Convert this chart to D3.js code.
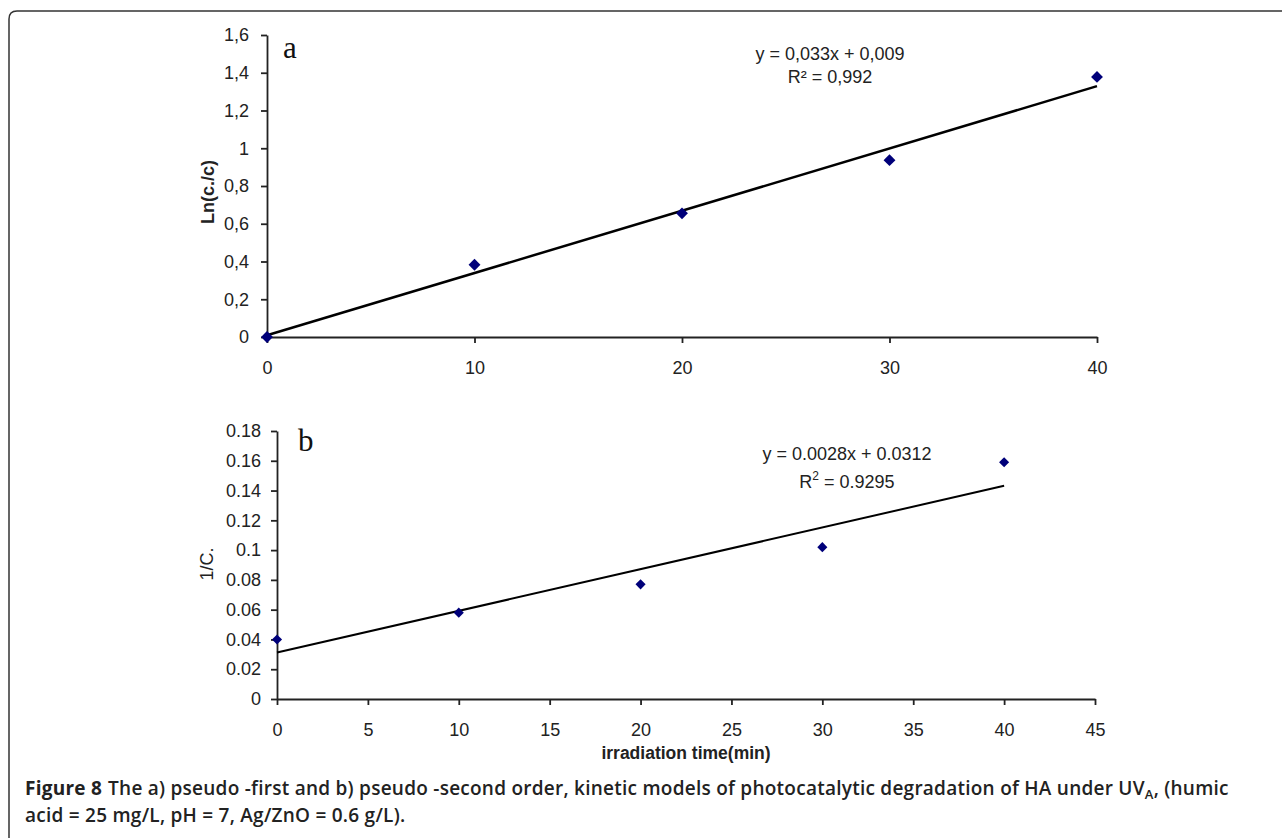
<!DOCTYPE html>
<html>
<head>
<meta charset="utf-8">
<script src="https://cdnjs.cloudflare.com/ajax/libs/d3/7.8.5/d3.min.js"></script>
<style>
  body { margin: 0; background: #fff; }
  .tick text { font-family: "Liberation Sans", Arial, sans-serif; font-size: 18px; fill: #222; }
  .axis path, .axis line { stroke: #222; stroke-width: 1.8; }
</style>
</head>
<body>
<svg id="canvas" width="1282" height="838"></svg>
<script>
// panel a: pseudo-first order
var timeA = [0, 10, 20, 30, 40];
var lnA = [0, 0.383, 0.655, 0.937, 1.378];
var ticksAY = [0, 0.2, 0.4, 0.6, 0.8, 1, 1.2, 1.4, 1.6];
var ticksAX = [0, 10, 20, 30, 40];
var fitA = { slope: 0.033, icept: 0.009 };

// panel b: pseudo-second order
var timeB = [0, 10, 20, 30, 40];
var invB = [0.040, 0.058, 0.077, 0.102, 0.159];
var ticksBY = [0, 0.02, 0.04, 0.06, 0.08, 0.1, 0.12, 0.14, 0.16, 0.18];
var ticksBX = [0, 5, 10, 15, 20, 25, 30, 35, 40, 45];
var fitB = { slope: 0.0028, icept: 0.0312 };

var canvas = d3.select("#canvas");

// frame (left + top, rounded corner)
canvas.append("path")
  .attr("d", "M9,838 L9,19 Q9,11 17,11 L1282,11")
  .attr("fill", "none")
  .attr("stroke", "#333")
  .attr("stroke-width", 1.5);

function panel(opts) {
  var x = d3.scaleLinear().domain(opts.xDomain).range(opts.xRange);
  var y = d3.scaleLinear().domain(opts.yDomain).range(opts.yRange);

  canvas.append("g")
    .attr("class", "axis")
    .attr("transform", "translate(0," + opts.yRange[0] + ")")
    .call(d3.axisBottom(x).tickValues(opts.xTicks).tickSize(6).tickSizeOuter(0).tickPadding(18));

  canvas.append("g")
    .attr("class", "axis")
    .attr("transform", "translate(" + opts.xRange[0] + ",0)")
    .call(d3.axisLeft(y).tickValues(opts.yTicks).tickSize(6).tickSizeOuter(0).tickPadding(opts.yPad).tickFormat(opts.fmt));

  // trend line
  var xs = [opts.xs[0], opts.xs[opts.xs.length - 1]];
  canvas.append("line")
    .attr("x1", x(xs[0]))
    .attr("y1", y(opts.fit.slope * xs[0] + opts.fit.icept))
    .attr("x2", x(xs[1]))
    .attr("y2", y(opts.fit.slope * xs[1] + opts.fit.icept))
    .attr("stroke", "#000")
    .attr("stroke-width", opts.lw);

  var diamond = d3.symbol().type(d3.symbolDiamond2).size(opts.msize);
  canvas.append("g")
    .selectAll("path")
    .data(opts.xs)
    .enter()
    .append("path")
    .attr("d", diamond)
    .attr("transform", function(d, i) { return "translate(" + x(d) + "," + y(opts.ys[i]) + ")"; })
    .attr("fill", "#00007a");

  // panel letter
  canvas.append("text")
    .attr("x", opts.letterX)
    .attr("y", opts.letterY)
    .attr("font-family", "Liberation Serif, serif")
    .attr("font-size", 31)
    .attr("fill", "#111")
    .text(opts.letter);

  // y label
  canvas.append("g")
    .attr("transform", "translate(" + opts.yLabelX + "," + opts.yLabelY + ") rotate(-90)")
    .append("text")
    .attr("text-anchor", "middle")
    .attr("font-family", "Liberation Sans, Arial, sans-serif")
    .attr("font-size", 18)
    .attr("font-weight", opts.yLabelWeight)
    .attr("fill", "#222")
    .text(opts.yLabel);

  return { x: x, y: y };
}

var pa = panel({
  xDomain: [0, 40], xRange: [267, 1097],
  yDomain: [0, 1.6], yRange: [337, 35],
  xTicks: ticksAX, yTicks: ticksAY, yPad: 12,
  fmt: function(d) { return String(d).replace(".", ","); },
  xs: timeA, ys: lnA, fit: fitA, lw: 2.5, msize: 90,
  letter: "a", letterX: 283, letterY: 58,
  yLabel: "Ln(c./c)", yLabelX: 214, yLabelY: 192, yLabelWeight: "bold"
});

var pb = panel({
  xDomain: [0, 45], xRange: [277, 1095],
  yDomain: [0, 0.18], yRange: [699, 431],
  xTicks: ticksBX, yTicks: ticksBY, yPad: 10,
  fmt: function(d) { return String(d); },
  xs: timeB, ys: invB, fit: fitB, lw: 2, msize: 65,
  letter: "b", letterX: 298, letterY: 451,
  yLabel: "1/C.", yLabelX: 213, yLabelY: 564, yLabelWeight: "normal"
});

// equations
var eqFont = "Liberation Sans, Arial, sans-serif";
var eqA = canvas.append("text").attr("font-family", eqFont).attr("font-size", 18).attr("fill", "#222").attr("text-anchor", "middle");
eqA.append("tspan").attr("x", 830).attr("y", 60).text("y = 0,033x  + 0,009");
eqA.append("tspan").attr("x", 830).attr("y", 83).text("R² = 0,992");

var eqB = canvas.append("text").attr("font-family", eqFont).attr("font-size", 18).attr("fill", "#222").attr("text-anchor", "middle");
eqB.append("tspan").attr("x", 847).attr("y", 460).text("y = 0.0028x  + 0.0312");
var r2 = eqB.append("tspan").attr("x", 847).attr("y", 488);
r2.append("tspan").text("R");
r2.append("tspan").attr("font-size", 12).attr("dy", -8).text("2");
r2.append("tspan").attr("dy", 8).text(" = 0.9295");

// x title
canvas.append("text")
  .attr("x", 686).attr("y", 759)
  .attr("text-anchor", "middle")
  .attr("font-family", "Liberation Sans, Arial, sans-serif")
  .attr("font-size", 17.5)
  .attr("font-weight", "bold")
  .attr("fill", "#222")
  .text("irradiation time(min)");

// caption, laid out piece by piece
var capFont = "Open Sans, Noto Sans, sans-serif";
var capX = 25;
function capPiece(str, weight, size, y) {
  var t = canvas.append("text").attr("x", capX).attr("y", y)
    .attr("font-family", capFont).attr("font-size", size)
    .attr("font-weight", weight).attr("fill", "#222")
    .attr("letter-spacing", 0.25)
    .text(str);
  capX += t.node().getComputedTextLength();
  return t;
}
capPiece("Figure 8", 700, 19, 795);
capX += 6;
capPiece("The a) pseudo -first and b) pseudo -second order, kinetic models of photocatalytic degradation of HA under UV", 600, 19, 795);
capPiece("A", 600, 13, 799);
capPiece(", (humic", 600, 19, 795);

canvas.append("text").attr("x", 25).attr("y", 821.5)
  .attr("font-family", capFont).attr("font-size", 19).attr("fill", "#222").attr("font-weight", 600)
  .attr("letter-spacing", 0.25)
  .text("acid = 25 mg/L, pH = 7, Ag/ZnO = 0.6 g/L).");
</script>
</body>
</html>
